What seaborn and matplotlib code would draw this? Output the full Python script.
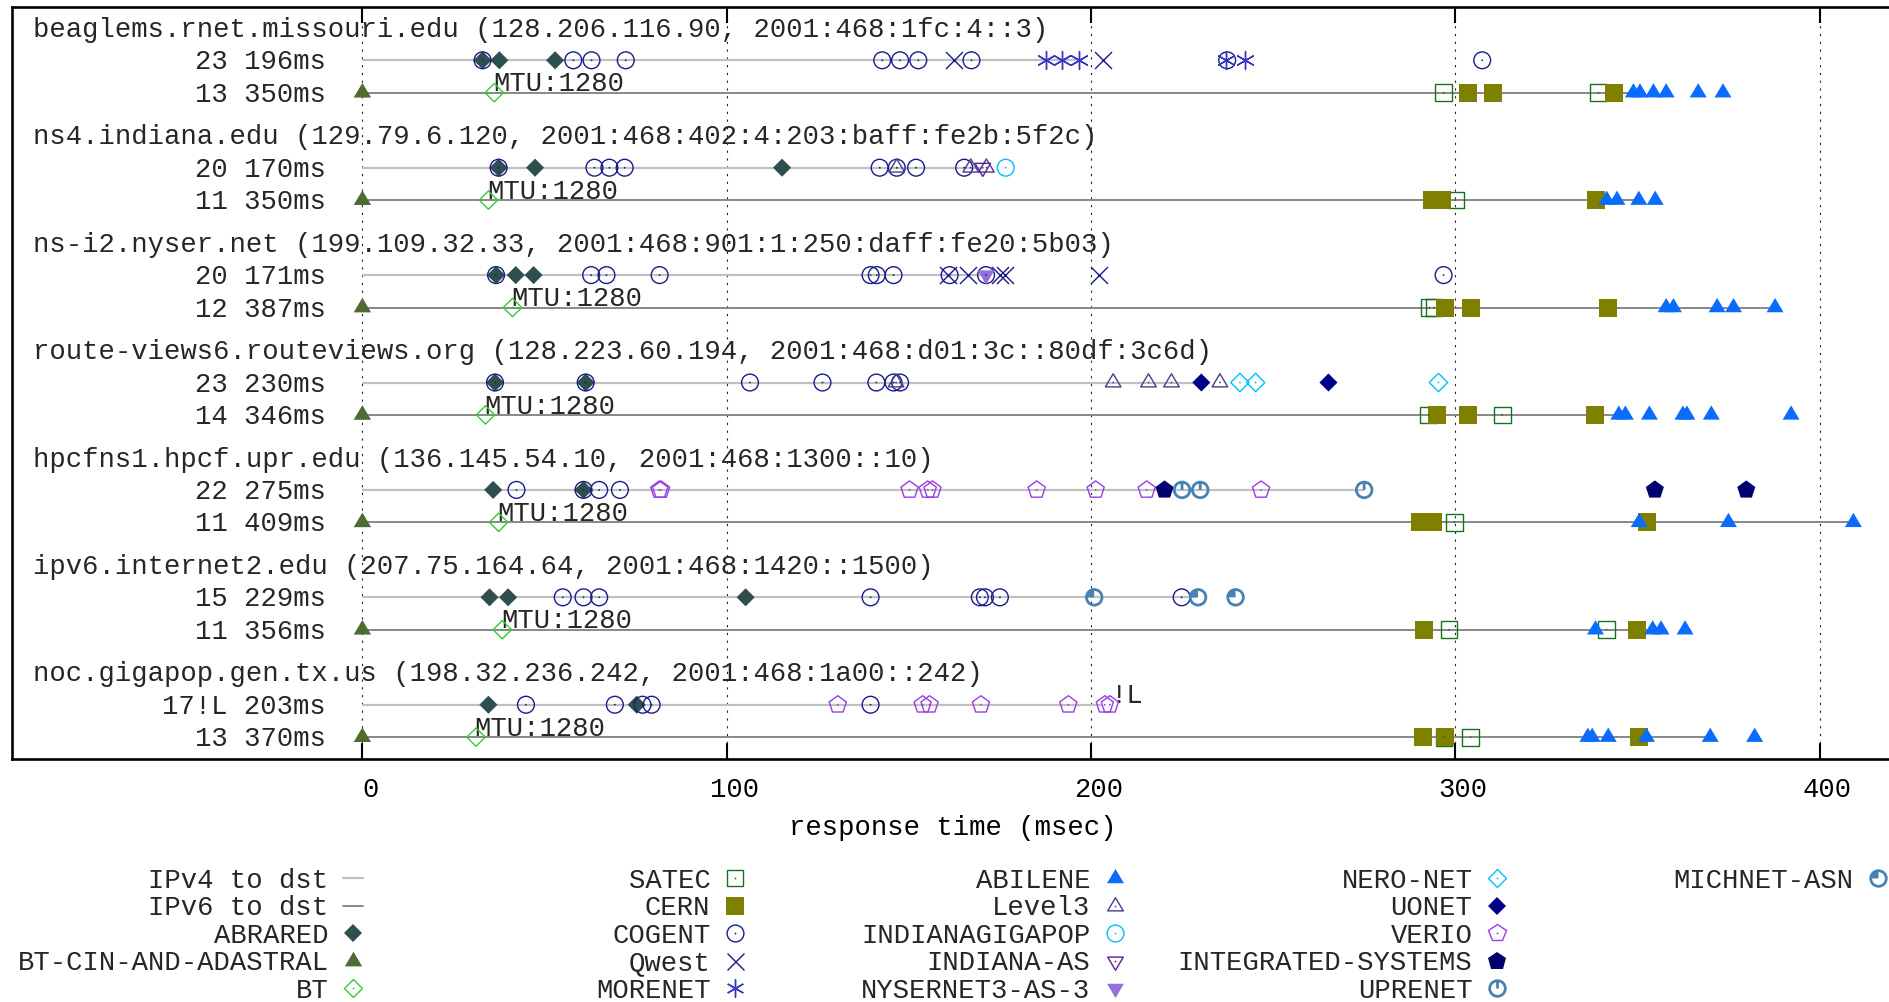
import matplotlib
matplotlib.use("Agg")
import matplotlib.pyplot as plt
import seaborn as sns
import pandas as pd
from matplotlib.path import Path
from matplotlib.lines import Line2D
from matplotlib.transforms import ScaledTranslation

# ---------------------------------------------------------------- data
hosts = [
    "beaglems.rnet.missouri.edu (128.206.116.90, 2001:468:1fc:4::3)",
    "ns4.indiana.edu (129.79.6.120, 2001:468:402:4:203:baff:fe2b:5f2c)",
    "ns-i2.nyser.net (199.109.32.33, 2001:468:901:1:250:daff:fe20:5b03)",
    "route-views6.routeviews.org (128.223.60.194, 2001:468:d01:3c::80df:3c6d)",
    "hpcfns1.hpcf.upr.edu (136.145.54.10, 2001:468:1300::10)",
    "ipv6.internet2.edu (207.75.164.64, 2001:468:1420::1500)",
    "noc.gigapop.gen.tx.us (198.32.236.242, 2001:468:1a00::242)",
]
v4_hops = ["23", "20", "20", "23", "22", "15", "17!L"]
v4_rtt = [196, 170, 171, 230, 275, 229, 203]
v6_hops = ["13", "11", "12", "14", "11", "11", "13"]
v6_rtt = [350, 350, 387, 346, 409, 356, 370]

beaglems_v4 = [
    ("ABRARED", 33.0), ("ABRARED", 37.6), ("ABRARED", 52.9),
    ("COGENT", 33.0), ("COGENT", 57.9), ("COGENT", 62.9), ("COGENT", 72.3),
    ("COGENT", 142.7), ("COGENT", 147.6), ("COGENT", 152.6), ("COGENT", 167.2),
    ("COGENT", 237.4), ("COGENT", 307.4),
    ("Qwest", 162.5), ("Qwest", 203.4),
    ("MORENET", 187.6), ("MORENET", 192.1), ("MORENET", 196.7),
    ("MORENET", 237.0), ("MORENET", 242.2),
]
beaglems_v6 = [
    ("BT-CIN-AND-ADASTRAL", 0.0), ("BT", 36.2),
    ("SATEC", 296.8), ("CERN", 303.6), ("CERN", 310.4), ("SATEC", 339.3), ("CERN", 343.7),
    ("ABILENE", 348.9), ("ABILENE", 350.7), ("ABILENE", 354.4), ("ABILENE", 357.9),
    ("ABILENE", 366.7), ("ABILENE", 373.5),
]
ns4_v4 = [
    ("ABRARED", 37.4), ("ABRARED", 47.4), ("ABRARED", 115.2),
    ("COGENT", 37.4), ("COGENT", 63.7), ("COGENT", 67.8), ("COGENT", 72.0),
    ("COGENT", 142.0), ("COGENT", 146.7), ("COGENT", 152.0), ("COGENT", 165.2),
    ("Level3", 146.7), ("Level3", 167.0), ("Level3", 171.3),
    ("INDIANA-AS", 170.3), ("INDIANAGIGAPOP", 176.6),
]
ns4_v6 = [
    ("BT-CIN-AND-ADASTRAL", 0.0), ("BT", 34.6),
    ("CERN", 293.5), ("CERN", 296.5), ("SATEC", 300.0), ("CERN", 338.7),
    ("ABILENE", 341.6), ("ABILENE", 344.4), ("ABILENE", 350.4), ("ABILENE", 354.9),
]
nyser_v4 = [
    ("ABRARED", 36.7), ("ABRARED", 42.1), ("ABRARED", 47.0),
    ("COGENT", 36.7), ("COGENT", 62.8), ("COGENT", 67.0), ("COGENT", 81.6),
    ("COGENT", 139.5), ("COGENT", 141.2), ("COGENT", 145.8), ("COGENT", 161.2),
    ("COGENT", 171.2), ("COGENT", 296.8),
    ("Qwest", 160.8), ("Qwest", 166.3), ("Qwest", 175.0), ("Qwest", 176.3), ("Qwest", 202.1),
    ("NYSERNET3-AS-3", 171.2),
]
nyser_v6 = [
    ("BT-CIN-AND-ADASTRAL", 0.0), ("BT", 41.2),
    ("SATEC", 292.9), ("SATEC", 294.2), ("CERN", 297.3), ("CERN", 304.4), ("CERN", 341.8),
    ("ABILENE", 357.9), ("ABILENE", 359.9), ("ABILENE", 371.9), ("ABILENE", 376.4),
    ("ABILENE", 387.8),
]
routeviews_v4 = [
    ("ABRARED", 36.4), ("ABRARED", 61.3),
    ("COGENT", 36.4), ("COGENT", 61.3), ("COGENT", 106.4), ("COGENT", 126.3),
    ("COGENT", 141.1), ("COGENT", 145.8), ("COGENT", 147.6),
    ("Level3", 146.5), ("Level3", 206.1), ("Level3", 215.8), ("Level3", 222.1), ("Level3", 235.4),
    ("UONET", 230.3), ("UONET", 265.2),
    ("NERO-NET", 240.9), ("NERO-NET", 245.2), ("NERO-NET", 295.4),
]
routeviews_v6 = [
    ("BT-CIN-AND-ADASTRAL", 0.0), ("BT", 33.8),
    ("SATEC", 292.7), ("CERN", 295.1), ("CERN", 303.6), ("SATEC", 312.9), ("CERN", 338.4),
    ("ABILENE", 344.9), ("ABILENE", 346.7), ("ABILENE", 353.3), ("ABILENE", 362.5),
    ("ABILENE", 363.6), ("ABILENE", 370.3), ("ABILENE", 392.2),
]
upr_v4 = [
    ("ABRARED", 35.9), ("ABRARED", 60.7),
    ("COGENT", 42.3), ("COGENT", 60.7), ("COGENT", 65.0), ("COGENT", 70.7),
    ("VERIO", 81.5), ("VERIO", 82.0), ("VERIO", 150.2), ("VERIO", 155.2), ("VERIO", 156.5),
    ("VERIO", 185.1), ("VERIO", 201.3), ("VERIO", 215.3), ("VERIO", 246.7),
    ("INTEGRATED-SYSTEMS", 220.2), ("INTEGRATED-SYSTEMS", 354.8), ("INTEGRATED-SYSTEMS", 379.9),
    ("UPRENET", 225.0), ("UPRENET", 230.0), ("UPRENET", 275.0),
]
upr_v6 = [
    ("BT-CIN-AND-ADASTRAL", 0.0), ("BT", 37.4),
    ("CERN", 290.3), ("CERN", 291.5), ("CERN", 294.0), ("SATEC", 299.8),
    ("ABILENE", 350.5), ("CERN", 352.7), ("ABILENE", 375.0), ("ABILENE", 409.3),
]
internet2_v4 = [
    ("ABRARED", 34.9), ("ABRARED", 40.0), ("ABRARED", 105.2),
    ("COGENT", 55.0), ("COGENT", 60.7), ("COGENT", 65.0), ("COGENT", 139.5),
    ("COGENT", 169.5), ("COGENT", 170.9), ("COGENT", 175.0), ("COGENT", 224.9),
    ("MICHNET-ASN", 200.9), ("MICHNET-ASN", 229.4), ("MICHNET-ASN", 239.7),
]
internet2_v6 = [
    ("BT-CIN-AND-ADASTRAL", 0.0), ("BT", 38.4),
    ("CERN", 291.4), ("SATEC", 298.3), ("ABILENE", 338.5), ("SATEC", 341.5), ("CERN", 350.0),
    ("ABILENE", 354.2), ("ABILENE", 356.5), ("ABILENE", 363.1),
]
gigapop_v4 = [
    ("ABRARED", 34.6), ("ABRARED", 75.3),
    ("COGENT", 44.9), ("COGENT", 69.3), ("COGENT", 76.9), ("COGENT", 79.4), ("COGENT", 139.5),
    ("VERIO", 130.5), ("VERIO", 153.8), ("VERIO", 155.7), ("VERIO", 169.8), ("VERIO", 193.8),
    ("VERIO", 203.8), ("VERIO", 205.2),
]
gigapop_v6 = [
    ("BT-CIN-AND-ADASTRAL", 0.0), ("BT", 31.2),
    ("CERN", 291.2), ("SATEC", 296.9), ("CERN", 297.3), ("SATEC", 304.2),
    ("ABILENE", 336.4), ("ABILENE", 337.6), ("ABILENE", 342.0), ("CERN", 350.5),
    ("ABILENE", 352.5), ("ABILENE", 370.0), ("ABILENE", 382.2),
]
paths_v4 = [beaglems_v4, ns4_v4, nyser_v4, routeviews_v4, upr_v4, internet2_v4, gigapop_v4]
paths_v6 = [beaglems_v6, ns4_v6, nyser_v6, routeviews_v6, upr_v6, internet2_v6, gigapop_v6]

legend_columns = [
    ["IPv4 to dst", "IPv6 to dst", "ABRARED", "BT-CIN-AND-ADASTRAL", "BT"],
    ["SATEC", "CERN", "COGENT", "Qwest", "MORENET"],
    ["ABILENE", "Level3", "INDIANAGIGAPOP", "INDIANA-AS", "NYSERNET3-AS-3"],
    ["NERO-NET", "UONET", "VERIO", "INTEGRATED-SYSTEMS", "UPRENET"],
    ["MICHNET-ASN"],
]

# ---------------------------------------------------------------- marker shapes
MOVE, LINE, CLOSE = Path.MOVETO, Path.LINETO, Path.CLOSEPOLY
TRI_UP = Path([(0, 1.12), (-1, -0.56), (1, -0.56), (0, 1.12)], [MOVE, LINE, LINE, CLOSE])
TRI_DN = Path([(0, -1.12), (-1, 0.56), (1, 0.56), (0, -1.12)], [MOVE, LINE, LINE, CLOSE])
CLOCK = Path.make_compound_path(Path.unit_circle(), Path([(0, 0), (0, 1)], [MOVE, LINE]))
QUARTER = Path.wedge(90, 180)

V4_COLOR, V6_COLOR = "#c0c0c0", "#7f7f7f"

# kind: filled / open / line ; px: marker size in pixels
STYLE = {
    "ABRARED": dict(m="D", px=12.8, kind="filled", c="#2f4f4f"),
    "BT-CIN-AND-ADASTRAL": dict(m=TRI_UP, px=19.5, kind="filled", c="#4e6b32"),
    "BT": dict(m="D", px=13.0, kind="open", c="#33cc33", dot=True),
    "SATEC": dict(m="s", px=16.8, kind="open", c="#17731a", dot=True),
    "CERN": dict(m="s", px=18.0, kind="filled", c="#808000"),
    "COGENT": dict(m="o", px=16.8, kind="open", c="#1a1a8c", dot=True),
    "Qwest": dict(m="x", px=17.0, kind="line", c="#1a1a8c"),
    "MORENET": dict(m=(6, 2, 0), px=18.0, kind="line", c="#3434c0"),
    "ABILENE": dict(m=TRI_UP, px=19.0, kind="filled", c="#0a6cff"),
    "Level3": dict(m=TRI_UP, px=17.5, kind="open", c="#483d8b", dot=True),
    "INDIANAGIGAPOP": dict(m="o", px=16.8, kind="open", c="#00bfff", dot=True),
    "INDIANA-AS": dict(m=TRI_DN, px=17.5, kind="open", c="#5b1f9b", dot=True),
    "NYSERNET3-AS-3": dict(m=TRI_DN, px=19.0, kind="filled", c="#9370db"),
    "NERO-NET": dict(m="D", px=13.0, kind="open", c="#00bfff", dot=True),
    "UONET": dict(m="D", px=12.8, kind="filled", c="#00008b"),
    "VERIO": dict(m="p", px=18.0, kind="open", c="#9a3de6", dot=True),
    "INTEGRATED-SYSTEMS": dict(m="p", px=19.0, kind="filled", c="#000070"),
    "UPRENET": dict(m=CLOCK, px=15.6, kind="open", c="#4682b4", lw=2.0),
    "MICHNET-ASN": dict(m="o", px=15.6, kind="open", c="#4682b4", lw=2.0, wedge=True),
}
PT = 0.72          # points per pixel at 100 dpi
DOT_PX = 1.8

# ---------------------------------------------------------------- layout helpers
GROUP = 3.315


def line_y(i, fam):
    return i * GROUP + (1.0 if fam == "v4" else 2.0)


records = []
for i, (p4, p6) in enumerate(zip(paths_v4, paths_v6)):
    for asn, rtt in p4:
        records.append(dict(asn=asn, rtt=rtt, y=line_y(i, "v4")))
    for asn, rtt in p6:
        records.append(dict(asn=asn, rtt=rtt, y=line_y(i, "v6")))
hops = pd.DataFrame(records)

# ---------------------------------------------------------------- figure
sns.set_theme(style="white")
FONT = ["Liberation Mono", "DejaVu Sans Mono"]
plt.rcParams["font.family"] = FONT
FS = 19.6

fig = plt.figure(figsize=(18.9, 10.02), dpi=100)
W, H = 1890.0, 1002.0
ax = fig.add_axes([12.2 / W, 1 - 758.7 / H, (1893 - 12.2) / W, (758.7 - 6.7) / H])
ax.set_xlim(-96.13, (1893 - 362.4) / 3.6428)
ax.set_ylim(22.556, -0.654)

# per-destination round trip lines
ax.hlines([line_y(i, "v4") for i in range(len(hosts))], 0, v4_rtt,
          color=V4_COLOR, lw=1.6, zorder=1)
ax.hlines([line_y(i, "v6") for i in range(len(hosts))], 0, v6_rtt,
          color=V6_COLOR, lw=1.3, zorder=1)

# hop markers, one layer per AS
for asn, st in STYLE.items():
    sub = hops[hops.asn == asn]
    if sub.empty:
        continue
    size = (st["px"] * PT) ** 2
    lw = st.get("lw", 1.0)
    if st["kind"] == "filled":
        sns.scatterplot(data=sub, x="rtt", y="y", ax=ax, marker=st["m"], s=size,
                        color=st["c"], edgecolor="none", linewidth=0,
                        legend=False, zorder=3)
    elif st["kind"] == "open":
        sns.scatterplot(data=sub, x="rtt", y="y", ax=ax, marker=st["m"], s=size,
                        color=st["c"], facecolor="none", edgecolor=st["c"],
                        linewidth=lw, legend=False, zorder=3)
    else:
        sns.scatterplot(data=sub, x="rtt", y="y", ax=ax, marker=st["m"], s=size,
                        color=st["c"], linewidth=lw, legend=False, zorder=3)
    if st.get("dot"):
        sns.scatterplot(data=sub, x="rtt", y="y", ax=ax, marker="o",
                        s=(DOT_PX * PT) ** 2, color=st["c"], edgecolor="none",
                        linewidth=0, legend=False, zorder=3.1)
    if st.get("wedge"):
        sns.scatterplot(data=sub, x="rtt", y="y", ax=ax, marker=QUARTER, s=size,
                        color=st["c"], edgecolor="none", linewidth=0,
                        legend=False, zorder=3.1)

# host titles, hop/rtt labels and annotations
for i, host in enumerate(hosts):
    ax.text(-90.3, line_y(i, "v4") - 0.72, host, fontsize=FS, ha="left", va="baseline")
    ax.text(-10.0, line_y(i, "v4") + 0.28, f"{v4_hops[i]} {v4_rtt[i]}ms",
            fontsize=FS, ha="right", va="baseline")
    ax.text(-10.0, line_y(i, "v6") + 0.28, f"{v6_hops[i]} {v6_rtt[i]}ms",
            fontsize=FS, ha="right", va="baseline")
    bt = [r for a, r in paths_v6[i] if a == "BT"][0]
    ax.text(bt - 0.4, line_y(i, "v6") - 0.04, "MTU:1280", fontsize=FS,
            ha="left", va="baseline", zorder=2)
gig = len(hosts) - 1
ax.text(205.3, line_y(gig, "v4") - 0.05, "!L", fontsize=FS, ha="left",
        va="baseline", zorder=2)

# axes decoration
ax.set_yticks([])
ax.set_xticks([0, 100, 200, 300, 400])
ax.grid(True, axis="x", color="#222222", lw=0.8, linestyle=(0, (2, 5)))
ax.grid(False, axis="y")
ax.set_axisbelow(True)
ax.tick_params(axis="x", direction="in", length=11.5, width=1.5, top=True,
               bottom=True, labelsize=FS, pad=13, color="black", labelcolor="black")
for lbl in ax.get_xticklabels():
    lbl.set_transform(lbl.get_transform() + ScaledTranslation(0.08, 0, fig.dpi_scale_trans))
for side in ("top", "bottom", "left"):
    ax.spines[side].set_color("black")
    ax.spines[side].set_linewidth(1.9)
ax.spines["right"].set_visible(False)
ax.set_xlabel("response time (msec)", fontsize=FS, labelpad=9, color="black")
ax.set_ylabel("")


# ---------------------------------------------------------------- legend
def handle_for(name):
    if name == "IPv4 to dst":
        return Line2D([], [], color=V4_COLOR, lw=1.6)
    if name == "IPv6 to dst":
        return Line2D([], [], color=V6_COLOR, lw=1.3)
    st = STYLE[name]
    ms = st["px"] * PT
    lw = st.get("lw", 1.0)
    if st["kind"] == "filled":
        h = Line2D([], [], ls="none", marker=st["m"], ms=ms, mfc=st["c"], mec="none", mew=0)
    elif st["kind"] == "open":
        h = Line2D([], [], ls="none", marker=st["m"], ms=ms, mfc="none", mec=st["c"], mew=lw)
    else:
        h = Line2D([], [], ls="none", marker=st["m"], ms=ms, color=st["c"], mew=lw)
    parts = [h]
    if st.get("dot"):
        parts.append(Line2D([], [], ls="none", marker="o", ms=DOT_PX * PT,
                            mfc=st["c"], mec="none", mew=0))
    if st.get("wedge"):
        parts.append(Line2D([], [], ls="none", marker=QUARTER, ms=ms,
                            mfc=st["c"], mec="none", mew=0))
    return tuple(parts) if len(parts) > 1 else h


HL = 0.7
hl_px = HL * FS / PT
col_marker_px = [353, 735, 1115, 1497, 1878]
for names, mx in zip(legend_columns, col_marker_px):
    fig.legend([handle_for(n) for n in names], names, loc="upper right",
               bbox_to_anchor=((mx + hl_px / 2) / W, 1 - 868 / H),
               bbox_transform=fig.transFigure, frameon=False, markerfirst=False,
               handlelength=HL, handletextpad=0.55, labelspacing=0.055,
               borderpad=0, borderaxespad=0, prop=dict(family=FONT, size=FS))

fig.savefig("out.png", dpi=100, facecolor="white")
